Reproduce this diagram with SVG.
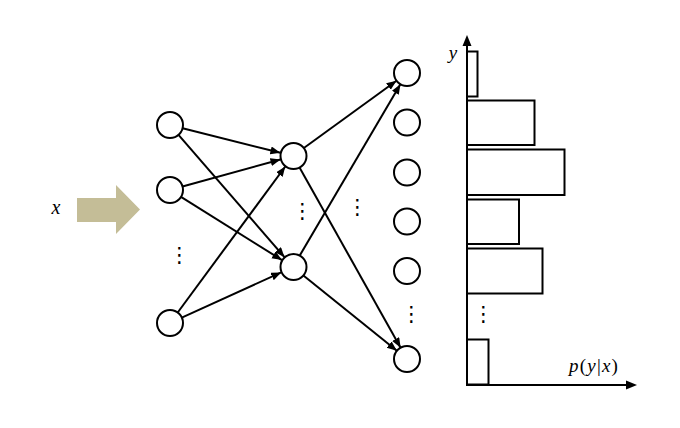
<svg xmlns="http://www.w3.org/2000/svg" width="680" height="428" viewBox="0 0 680 428">
<defs>
<style>
.node{fill:#fff;stroke:#000;stroke-width:2}
.edge{stroke:#000;stroke-width:2;fill:none}
.bar{fill:#fff;stroke:#000;stroke-width:2}
.axis{stroke:#000;stroke-width:2;fill:none}
.math{font-family:"Liberation Serif","DejaVu Serif",serif;fill:#000}
.it{font-style:italic}
.dots{font-family:"DejaVu Sans",sans-serif;font-size:21px;fill:#000;text-anchor:middle}
</style>
<marker id="ah" markerUnits="userSpaceOnUse" markerWidth="11" markerHeight="9" refX="10" refY="4" orient="auto" viewBox="0 0 11 9">
<path d="M0,0 L10,4 L0,8 z" fill="#000"/>
</marker>
</defs>
<rect width="680" height="428" fill="#fff"/>

<g id="input-arrow">
<polygon points="77,198 116,198 116,185 140,209.5 116,234 116,222 77,222" fill="#c4bd97"/>
<text class="math it" x="56" y="214" font-size="20" text-anchor="middle">x</text>
</g>

<g id="connectors">
<line class="edge" x1="182.6" y1="128.2" x2="280.4" y2="152.8" marker-end="url(#ah)"/>
<line class="edge" x1="178.5" y1="134.8" x2="284.5" y2="257.2" marker-end="url(#ah)"/>
<line class="edge" x1="182.5" y1="186.5" x2="280.5" y2="159.5" marker-end="url(#ah)"/>
<line class="edge" x1="181" y1="196.9" x2="282" y2="260.1" marker-end="url(#ah)"/>
<line class="edge" x1="177.7" y1="312.5" x2="285.3" y2="166.5" marker-end="url(#ah)"/>
<line class="edge" x1="181.8" y1="317.6" x2="281.2" y2="272.4" marker-end="url(#ah)"/>
<line class="edge" x1="303.5" y1="148.3" x2="396.5" y2="80.7" marker-end="url(#ah)"/>
<line class="edge" x1="299.4" y1="167.3" x2="400.6" y2="347.7" marker-end="url(#ah)"/>
<line class="edge" x1="299.6" y1="255.8" x2="400.4" y2="84.2" marker-end="url(#ah)"/>
<line class="edge" x1="303.1" y1="275.2" x2="396.9" y2="350.8" marker-end="url(#ah)"/>
</g>

<g id="in1"><circle class="node" cx="170" cy="125" r="13"/></g>
<g id="in2"><circle class="node" cx="170" cy="190" r="13"/></g>
<g id="in3"><circle class="node" cx="170" cy="323" r="13"/></g>
<g id="in-dots"><text class="dots" x="179.5" y="262">⋮</text></g>

<g id="h1"><circle class="node" cx="293.5" cy="156" r="13"/></g>
<g id="h2"><circle class="node" cx="293.5" cy="267" r="13"/></g>
<g id="h-dots"><text class="dots" x="302.5" y="218">⋮</text></g>
<g id="mid-dots"><text class="dots" x="357.5" y="214">⋮</text></g>

<g id="o1"><circle class="node" cx="407" cy="73" r="13"/></g>
<g id="o2"><circle class="node" cx="407" cy="122.5" r="13"/></g>
<g id="o3"><circle class="node" cx="407" cy="172.5" r="13"/></g>
<g id="o4"><circle class="node" cx="407" cy="221.5" r="13"/></g>
<g id="o5"><circle class="node" cx="407" cy="271" r="13"/></g>
<g id="o6"><circle class="node" cx="407" cy="359" r="13"/></g>
<g id="o-dots"><text class="dots" x="411.5" y="321">⋮</text></g>

<g id="histogram">
<rect class="bar" x="467" y="51.5" width="10.5" height="45"/>
<rect class="bar" x="467" y="100.5" width="67.5" height="44.5"/>
<rect class="bar" x="467" y="149.5" width="97.5" height="45.5"/>
<rect class="bar" x="467" y="199.5" width="52" height="44.5"/>
<rect class="bar" x="467" y="248.5" width="75.5" height="45"/>
<rect class="bar" x="467" y="339.5" width="21.5" height="45"/>
<text class="dots" x="483.5" y="321">⋮</text>
<line class="axis" x1="467" y1="385" x2="467" y2="44"/>
<path d="M462.5,46 L467,35 L471.5,46 z" fill="#000"/>
<line class="axis" x1="466" y1="385" x2="627" y2="385"/>
<path d="M626,380.5 L637,385 L626,389.5 z" fill="#000"/>
<text class="math it" x="453" y="59" font-size="19" text-anchor="middle">y</text>
<text class="math" x="569" y="372" font-size="19" letter-spacing="1.2"><tspan class="it">p</tspan>(<tspan class="it">y</tspan>|<tspan class="it">x</tspan>)</text>
</g>
</svg>
